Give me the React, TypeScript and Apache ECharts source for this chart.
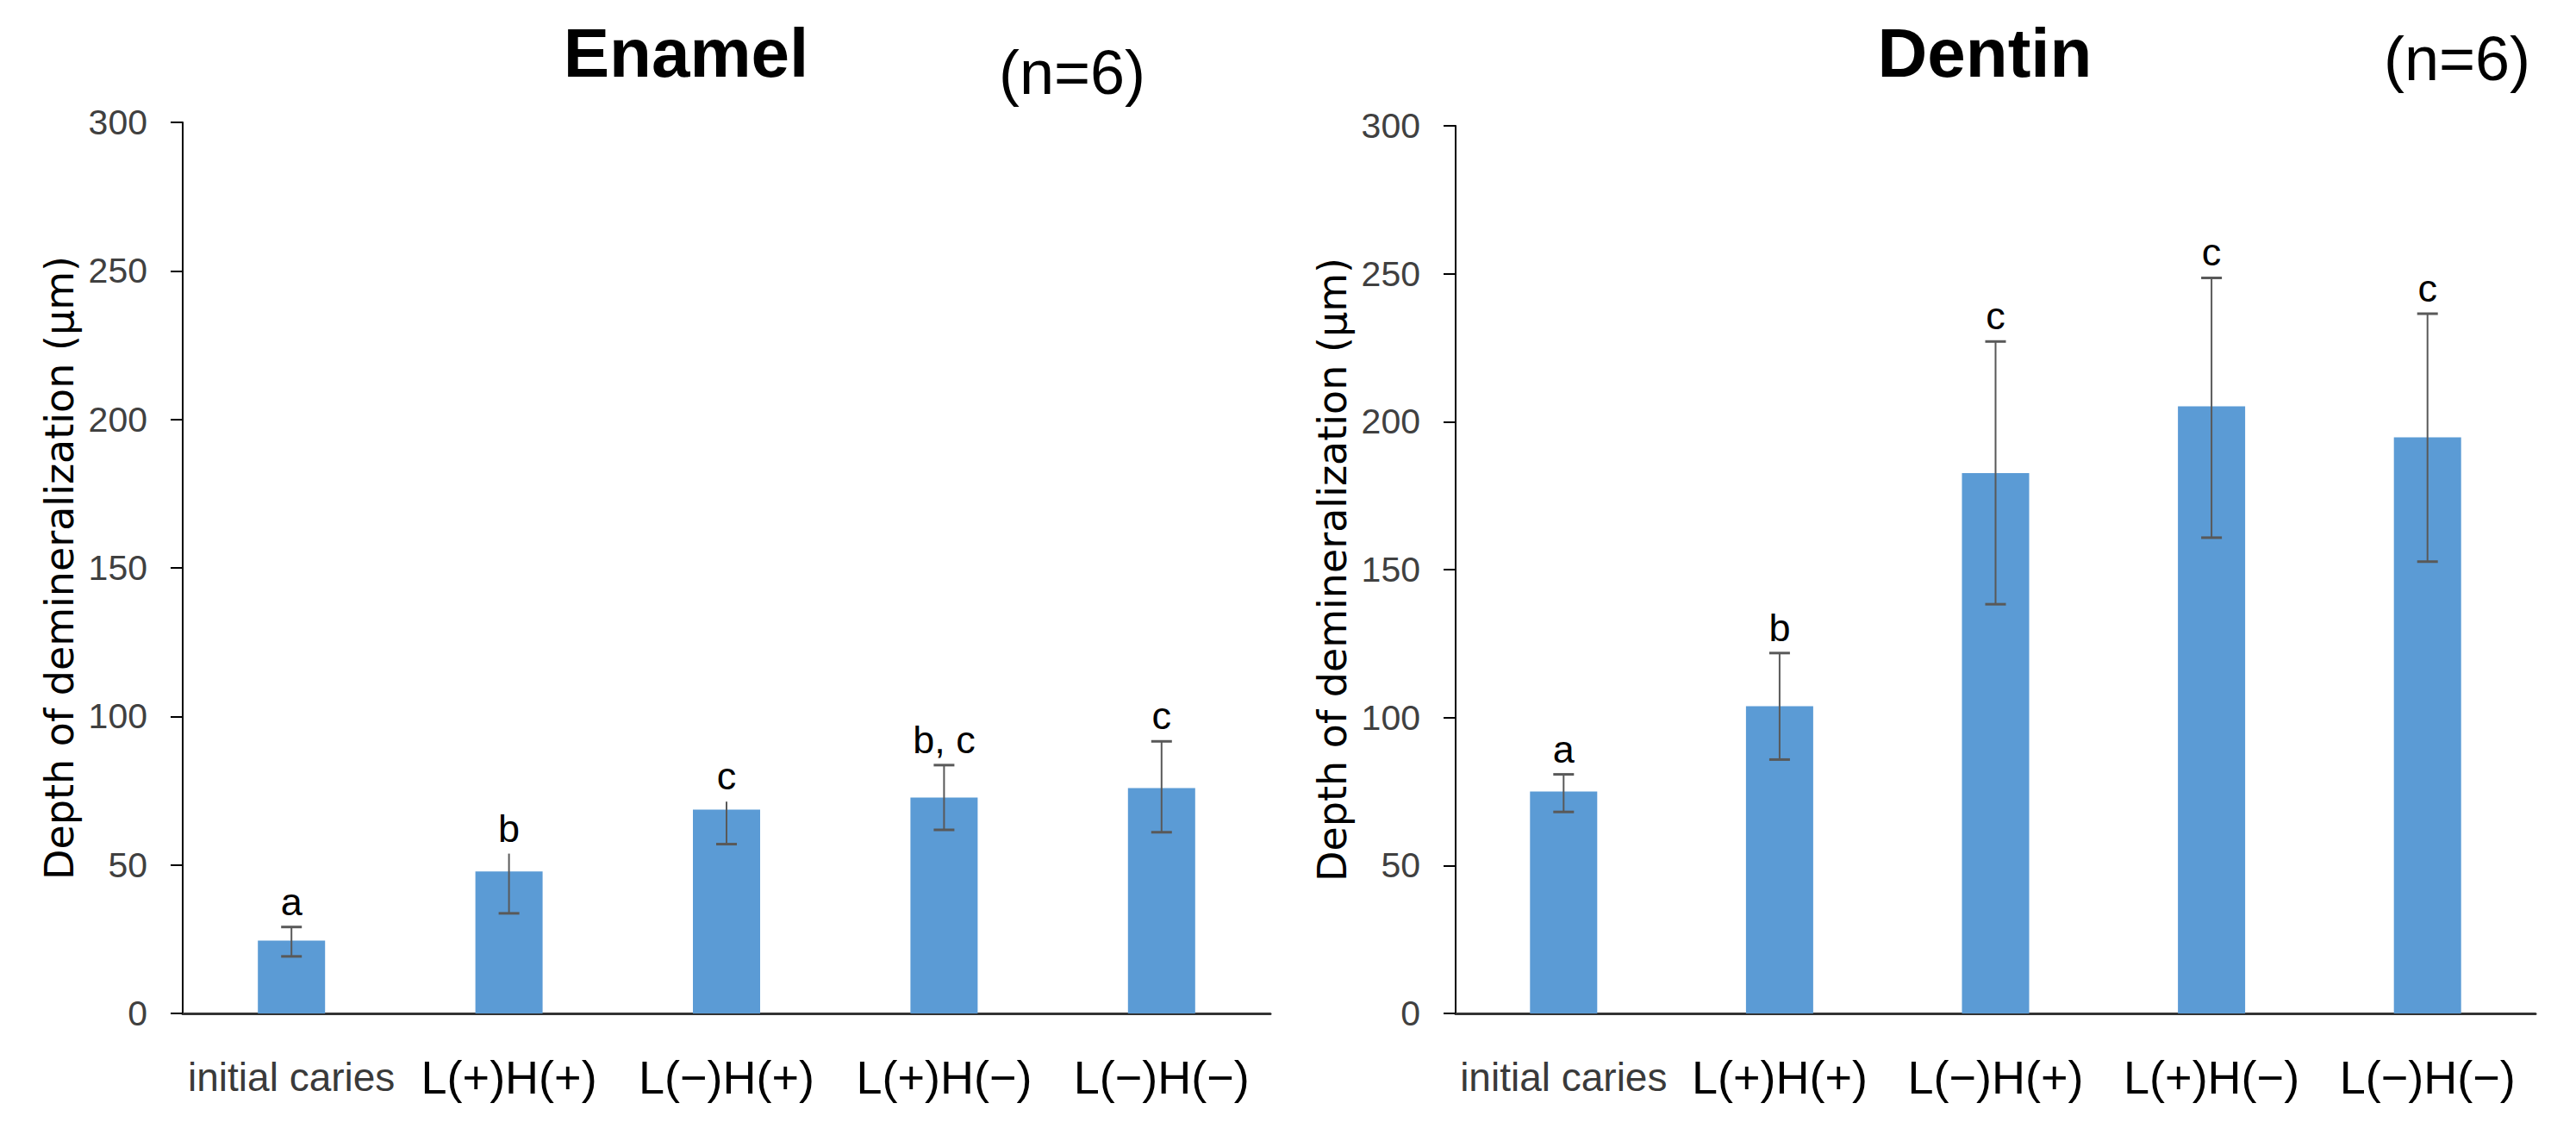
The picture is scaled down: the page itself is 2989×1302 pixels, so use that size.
import React, { useEffect, useRef } from "react";
import * as echarts from "echarts";

const categories = ["initial caries", "L(+)H(+)", "L(−)H(+)", "L(+)H(−)", "L(−)H(−)"];

const enamelMean = [24.5, 47.8, 68.6, 72.7, 75.9];
const enamelLow = [19.2, 33.7, 57.0, 61.8, 61.0];
const enamelHigh = [29.1, 53.8, 71.3, 83.6, 91.6];
const enamelTopCap = [true, false, false, true, true];
const enamelLetters = ["a", "b", "c", "b, c", "c"];

const dentinMean = [75.0, 103.8, 182.6, 205.2, 194.7];
const dentinLow = [68.1, 85.8, 138.3, 160.8, 152.7];
const dentinHigh = [80.8, 121.8, 227.1, 248.6, 236.5];
const dentinTopCap = [true, true, true, true, true];
const dentinLetters = ["a", "b", "c", "c", "c"];

const yMin = 0;
const yMax = 300;
const yInterval = 50;

const titles = ["Enamel", "Dentin"];
const sampleNote = "(n=6)";
const yAxisName = "Depth of demineralization (μm)";

const BAR_COLOR = "#5B9BD5";
const ERR_COLOR = "#595959";
const NARROW = "'Liberation Sans Narrow', 'Liberation Sans', Arial, sans-serif";
const SANS = "'Liberation Sans', Arial, sans-serif";

function makeRender(letters: string[]) {
  return (params: any, api: any) => {
    const idx = api.value(0);
    const low = api.coord([idx, api.value(1)]);
    const high = api.coord([idx, api.value(2)]);
    const cap = api.value(3);
    const half = 12;
    const children: any[] = [
      {
        type: "line",
        shape: { x1: high[0], y1: high[1], x2: low[0], y2: low[1] },
        style: { stroke: ERR_COLOR, lineWidth: 2 },
      },
      {
        type: "line",
        shape: { x1: low[0] - half, y1: low[1], x2: low[0] + half, y2: low[1] },
        style: { stroke: ERR_COLOR, lineWidth: 3 },
      },
    ];
    if (cap) {
      children.push({
        type: "line",
        shape: { x1: high[0] - half, y1: high[1], x2: high[0] + half, y2: high[1] },
        style: { stroke: ERR_COLOR, lineWidth: 3 },
      });
    }
    children.push({
      type: "text",
      x: high[0],
      y: high[1] - 7,
      style: {
        text: letters[params.dataIndex],
        fontSize: 45,
        fontFamily: SANS,
        fill: "#000",
        align: "center",
        verticalAlign: "bottom",
      },
    });
    return { type: "group", children };
  };
}

function yAxisCfg(gridIndex: number) {
  return {
    type: "value",
    gridIndex,
    min: yMin,
    max: yMax,
    interval: yInterval,
    name: yAxisName,
    nameLocation: "middle",
    nameRotate: 90,
    nameGap: 120,
    nameTextStyle: { fontFamily: "'DejaVu Sans', sans-serif", fontSize: 46, color: "#000" },
    axisLine: { show: true, lineStyle: { color: "#000", width: 2 } },
    axisTick: { show: true, length: 14, lineStyle: { color: "#000", width: 2 } },
    splitLine: { show: false },
    axisLabel: { margin: 41, fontFamily: NARROW, fontSize: 41, color: "#404040" },
  };
}

function xAxisCfg(gridIndex: number) {
  return {
    type: "category",
    gridIndex,
    data: categories,
    axisLine: { show: true, lineStyle: { color: "#333", width: 3 } },
    axisTick: { show: false },
    axisLabel: {
      interval: 0,
      margin: 44,
      formatter: (v: string, i: number) => (i === 0 ? `{a|${v}}` : `{b|${v}}`),
      rich: {
        a: { fontFamily: NARROW, fontSize: 46, color: "#3a3a3a", lineHeight: 60 },
        b: { fontFamily: SANS, fontSize: 54, color: "#000", lineHeight: 60 },
      },
    },
  };
}

export default function App() {
  const ref = useRef<HTMLDivElement>(null);
  useEffect(() => {
    if (!ref.current) return;
    const chart = echarts.init(ref.current, null, { renderer: "svg" });
    const errData = (low: number[], high: number[], caps: boolean[]) =>
      categories.map((_, i) => [i, low[i], high[i], caps[i] ? 1 : 0]);
    const option: any = {
      animation: false,
      backgroundColor: "#fff",
      grid: [
        { left: 212, top: 142, width: 1262, height: 1034 },
        { left: 1689, top: 146, width: 1253, height: 1030 },
      ],
      xAxis: [xAxisCfg(0), xAxisCfg(1)],
      yAxis: [yAxisCfg(0), yAxisCfg(1)],
      series: [
        {
          type: "bar",
          xAxisIndex: 0,
          yAxisIndex: 0,
          data: enamelMean,
          barWidth: 78,
          itemStyle: { color: BAR_COLOR },
        },
        {
          type: "bar",
          xAxisIndex: 1,
          yAxisIndex: 1,
          data: dentinMean,
          barWidth: 78,
          itemStyle: { color: BAR_COLOR },
        },
        {
          type: "custom",
          xAxisIndex: 0,
          yAxisIndex: 0,
          data: errData(enamelLow, enamelHigh, enamelTopCap),
          encode: { x: 0, y: [1, 2] },
          renderItem: makeRender(enamelLetters),
          z: 5,
        },
        {
          type: "custom",
          xAxisIndex: 1,
          yAxisIndex: 1,
          data: errData(dentinLow, dentinHigh, dentinTopCap),
          encode: { x: 0, y: [1, 2] },
          renderItem: makeRender(dentinLetters),
          z: 5,
        },
      ],
      graphic: [
        {
          type: "text",
          x: 796,
          y: 61,
          style: { text: titles[0], fontSize: 80, fontWeight: "bold", fontFamily: SANS, fill: "#000", align: "center", verticalAlign: "middle" },
        },
        {
          type: "text",
          x: 2303,
          y: 61,
          style: { text: titles[1], fontSize: 80, fontWeight: "bold", fontFamily: SANS, fill: "#000", align: "center", verticalAlign: "middle" },
        },
        {
          type: "text",
          x: 1244,
          y: 84,
          style: { text: sampleNote, fontSize: 72, fontFamily: SANS, fill: "#000", align: "center", verticalAlign: "middle" },
        },
        {
          type: "text",
          x: 2851,
          y: 68,
          style: { text: sampleNote, fontSize: 72, fontFamily: SANS, fill: "#000", align: "center", verticalAlign: "middle" },
        },
      ],
    };
    chart.setOption(option);
    return () => chart.dispose();
  }, []);
  return (
    <div
      ref={ref}
      style={{ position: "absolute", left: 0, top: 0, width: 2989, height: 1302 }}
    />
  );
}
